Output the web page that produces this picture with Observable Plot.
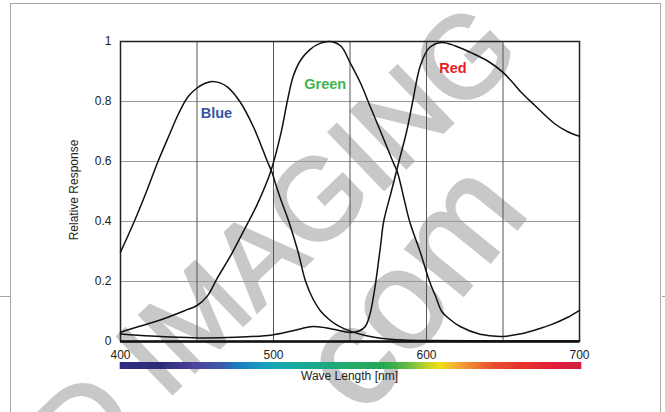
<!DOCTYPE html>
<html>
<head>
<meta charset="utf-8">
<script src="https://cdn.jsdelivr.net/npm/d3@7"></script>
<script src="https://cdn.jsdelivr.net/npm/@observablehq/plot@0.6"></script>
<style>
  html, body { margin: 0; padding: 0; background: #fff; }
  #wrap { position: relative; width: 665px; height: 412px; overflow: hidden; background: #fff;
          font-family: "Liberation Sans", Arial, sans-serif; color: #222; }
  .abs { position: absolute; }
</style>
</head>
<body>
<div id="wrap"></div>
<script>
// ---- data ----
const blueNm = [400,409,417,424.5,432,438,444,450,455,460,465,470,478,487,496,499,502,505,510,516,521,526,531,536,541,546,551,560,570,585,600,650,700];
const blueV  = [0.298,0.40,0.50,0.60,0.69,0.76,0.815,0.845,0.86,0.867,0.862,0.848,0.80,0.714,0.60,0.564,0.515,0.47,0.40,0.30,0.20,0.14,0.10,0.075,0.056,0.043,0.033,0.02,0.011,0.005,0.003,0.002,0.002];

const greenNm = [400,412,425,442,450,457,463,472,480,489,498,505,509,513,518,524,530,537,544,550,557,563,570,578,581,589,596,602,606,610,615,622,635,650,662,672,682,692,700];
const greenV  = [0.031,0.05,0.07,0.103,0.12,0.153,0.209,0.286,0.364,0.453,0.564,0.697,0.80,0.886,0.94,0.974,0.993,1.0,0.985,0.93,0.86,0.786,0.70,0.60,0.564,0.40,0.297,0.20,0.15,0.10,0.075,0.05,0.024,0.017,0.026,0.04,0.057,0.08,0.104];

const redNm = [400,420,450,475,499,512,526,538,550,556,560,563,566,570,572,577,582,587,591,596,602,610,619,629,640,650,656,662,671,684,692,700];
const redV  = [0.025,0.018,0.012,0.014,0.022,0.035,0.05,0.042,0.03,0.035,0.05,0.09,0.17,0.32,0.40,0.50,0.60,0.70,0.80,0.92,0.98,0.997,0.985,0.963,0.935,0.897,0.865,0.83,0.786,0.725,0.70,0.684];

const labelNames  = ["Blue", "Green", "Red"];
const labelNm     = [462.7, 533.8, 617.3];
const labelV      = [0.762, 0.857, 0.912];
const labelColors = ["#3553a6", "#3cb54a", "#ee1c25"];

const xTickLabels = [400, 500, 600, 700];
const xGridTicks  = [450, 500, 550, 600, 650];
const yTicks      = [0, 0.2, 0.4, 0.6, 0.8, 1];
const yGridTicks  = [0.2, 0.4, 0.6, 0.8];

const spectrumNm     = [400, 426, 448, 465, 476, 491, 507, 528, 550, 572, 587, 598, 608, 618, 629, 644, 666, 683, 700];
const spectrumColors = ["#2e2a80","#2a2878","#4a3e9c","#3a55a8","#1878c0","#1598c0","#12a8a8","#18a888","#20a868","#22a850","#60b840","#b0d028","#f0e010","#f5b030","#f08030","#e84a2a","#e52a2a","#e01a38","#d01c40"];

const xLabel = "Wave Length [nm]";
const yLabel = "Relative Response";

// ---- build tables ----
const toRows = (nm, v, name) => nm.map((x, i) => ({nm: x, v: v[i], name}));
const curves = [
  ...toRows(blueNm, blueV, "Blue"),
  ...toRows(greenNm, greenV, "Green"),
  ...toRows(redNm, redV, "Red")
];
const labels = labelNames.map((t, i) => ({t, nm: labelNm[i], v: labelV[i], c: labelColors[i]}));

const wrap = document.getElementById("wrap");
const font = '"Liberation Sans", Arial, sans-serif';

// ---- watermark (behind) ----
const ns = "http://www.w3.org/2000/svg";
const wm = document.createElementNS(ns, "svg");
wm.setAttribute("width", 665); wm.setAttribute("height", 412);
wm.setAttribute("class", "abs"); wm.style.left = "0px"; wm.style.top = "0px";
wm.innerHTML = `
  <g fill="#c8c8c8" stroke="#c8c8c8" stroke-width="3" font-family='${font}'>
    <g transform="translate(165,400.7) rotate(-44)" font-size="115">
      <text x="-115" y="0">D</text>
      <text x="0" y="0">IMAGING</text>
    </g>
    <g transform="translate(340,448) rotate(-51)" font-size="140">
      <text x="0" y="0">.com</text>
    </g>
  </g>`;
wrap.appendChild(wm);

// ---- page frame lines ----
function box(css) { const d = document.createElement("div"); d.className = "abs"; Object.assign(d.style, css); wrap.appendChild(d); }
box({left: "10px", top: "3px", width: "651px", height: "430px", border: "1.5px solid #a8a8a8", boxSizing: "border-box"});
box({left: "0px", top: "295.5px", width: "10px", height: "0px", borderTop: "1.5px solid #a8a8a8"});
box({left: "662px", top: "295.5px", width: "3px", height: "0px", borderTop: "1.5px solid #a8a8a8"});

// ---- main chart ----
const main = Plot.plot({
  width: 665, height: 360,
  marginLeft: 120, marginRight: 86, marginTop: 41, marginBottom: 19,
  style: {fontFamily: font, fontSize: "12px", background: "transparent", color: "#222", overflow: "visible"},
  x: {domain: [400, 700]},
  y: {domain: [0, 1]},
  marks: [
    Plot.gridY(yGridTicks, {stroke: "#999", strokeOpacity: 1, strokeWidth: 1.2}),
    Plot.gridX(xGridTicks, {stroke: "#555", strokeOpacity: 1, strokeWidth: 1}),
    Plot.frame({stroke: "#222", strokeWidth: 1.5}),
    Plot.ruleY([0], {stroke: "#111", strokeWidth: 2.5}),
    Plot.line(curves, {x: "nm", y: "v", z: "name", stroke: "#111", strokeWidth: 1.5, curve: "catmull-rom"}),
    Plot.text(labels, {x: "nm", y: "v", text: "t", fill: "c", fontWeight: "bold", fontSize: 14.5}),
    Plot.axisY(yTicks, {tickSize: 0, tickPadding: 9, tickFormat: d => String(d), label: null}),
    Plot.axisX(xTickLabels, {tickSize: 0, tickPadding: 9, tickFormat: d => String(d), label: null})
  ]
});
main.classList.add("abs"); main.style.left = "0px"; main.style.top = "0px";
wrap.appendChild(main);

// ---- spectrum bar ----
const spec = d3.scaleLinear().domain(spectrumNm).range(spectrumColors).interpolate(d3.interpolateRgb);
const bar = Plot.plot({
  width: 665, height: 7,
  marginLeft: 120, marginRight: 84, marginTop: 0, marginBottom: 0,
  style: {background: "transparent"},
  x: {domain: [400, 700], axis: null},
  color: {type: "identity"},
  marks: [
    Plot.rect(d3.range(400, 700, 1), {x1: d => d, x2: d => d + 1, fill: d => spec(d + 0.5), stroke: d => spec(d + 0.5), strokeWidth: 0.6})
  ]
});
bar.classList.add("abs"); bar.style.left = "0px"; bar.style.top = "362px";
wrap.appendChild(bar);

// ---- axis titles ----
const xl = document.createElement("div");
xl.className = "abs"; xl.textContent = xLabel;
Object.assign(xl.style, {left: "120px", width: "459px", top: "369px", textAlign: "center", fontSize: "12px", lineHeight: "14px"});
wrap.appendChild(xl);

const yl = document.createElement("div");
yl.className = "abs"; yl.textContent = yLabel;
Object.assign(yl.style, {left: "74px", top: "190px", fontSize: "12px", lineHeight: "12px", whiteSpace: "nowrap", transform: "translate(-50%,-50%) rotate(-90deg)"});
wrap.appendChild(yl);
</script>
</body>
</html>
